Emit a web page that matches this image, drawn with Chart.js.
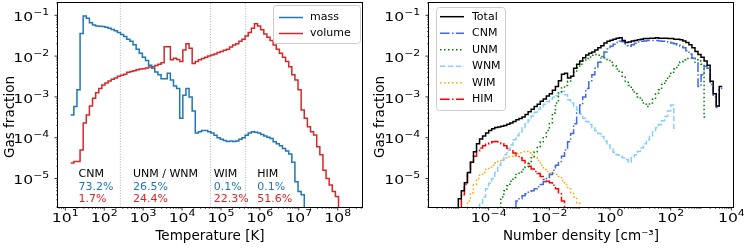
<!DOCTYPE html>
<html>
<head>
<meta charset="utf-8">
<script src="https://cdn.jsdelivr.net/npm/chart.js@4.4.1/dist/chart.umd.min.js"></script>
<style>
  html, body { margin: 0; padding: 0; background: #fff; }
  #wrap { position: relative; width: 747px; height: 249px; }
  canvas { position: absolute; top: 0; }
  #left { left: 0; }
  #right { left: 370px; }
</style>
</head>
<body>
<div id="wrap">
  <canvas id="left" width="370" height="249"></canvas>
  <canvas id="right" width="377" height="249"></canvas>
</div>
<script>
// ---- left panel: gas fraction vs temperature (bins in log10 T) ----
const tempLogStart = 1.14;
const tempLogBin = 0.08;
const massFrac = [
  3.6e-4, 5.8e-4, 1.5e-3, 3.6e-2, 9.6e-2, 8.5e-2, 6.6e-2, 5.8e-2, 5.5e-2, 5.4e-2,
  5.3e-2, 5.1e-2, 4.8e-2, 4.5e-2, 4.2e-2, 3.8e-2, 3.4e-2, 3.0e-2, 2.6e-2, 2.3e-2,
  1.9e-2, 1.47e-2, 1.17e-2, 9.3e-3, 7.8e-3, 6.0e-3, 5.0e-3, 4.1e-3, 3.5e-3, 2.8e-3,
  2.8e-3, 3.8e-3, 2.6e-3, 1.86e-3, 1.6e-3, 3.0e-4, 1.1e-3, 1.6e-3, 1.0e-3, 4.5e-4,
  1.3e-4, 1.4e-4, 1.5e-4, 1.5e-4, 1.4e-4, 1.3e-4, 1.15e-4, 1.0e-4, 9.1e-5, 8.5e-5,
  8.1e-5, 8.3e-5, 8.1e-5, 8.3e-5, 9.1e-5, 1.0e-4, 1.15e-4, 1.3e-4, 1.4e-4, 1.35e-4,
  1.3e-4, 1.2e-4, 1.1e-4, 1.02e-4, 9.5e-5, 7.9e-5, 7.1e-5, 6.3e-5, 5.4e-5, 4.7e-5,
  4.0e-5, 2.5e-5, 8.3e-6, 4.8e-6, 4.0e-6, 1e-8
];
const volumeFrac = [
  2.4e-5, 2.6e-5, 2.6e-5, 5.0e-5, 2.3e-4, 3.6e-4, 6.0e-4, 9.3e-4, 1.26e-3, 1.6e-3,
  1.95e-3, 2.2e-3, 2.45e-3, 2.7e-3, 2.9e-3, 3.2e-3, 3.4e-3, 3.6e-3, 4.0e-3, 4.2e-3,
  4.4e-3, 4.6e-3, 4.8e-3, 4.9e-3, 5.1e-3, 5.4e-3, 5.5e-3, 5.9e-3, 6.3e-3, 6.9e-3,
  1.7e-2, 1.7e-2, 8.1e-3, 8.9e-3, 8.3e-3, 7.4e-3, 1.4e-2, 2.0e-2, 1.55e-2, 6.6e-3,
  7.4e-3, 8.1e-3, 8.7e-3, 9.3e-3, 1.0e-2, 1.07e-2, 1.12e-2, 1.23e-2, 1.3e-2, 1.38e-2,
  1.48e-2, 1.66e-2, 1.86e-2, 2.0e-2, 2.3e-2, 2.6e-2, 3.1e-2, 3.8e-2, 4.8e-2, 6.2e-2,
  5.5e-2, 4.4e-2, 3.5e-2, 2.9e-2, 2.4e-2, 1.86e-2, 1.48e-2, 1.17e-2, 9.3e-3, 7.4e-3,
  5.5e-3, 3.5e-3, 2.6e-3, 1.5e-3, 4.8e-4, 3.0e-4, 1.86e-4, 1.4e-4, 1.17e-4, 6.0e-5,
  3.8e-5, 1.6e-5, 1.0e-5, 6.9e-6, 4.8e-6, 3.6e-6, 1e-8
];
const phaseBoundsT = [260, 5.4e4, 4.3e5];
const phaseNames = ["CNM", "UNM / WNM", "WIM", "HIM"];
const phaseMassPct = ["73.2%", "26.5%", "0.1%", "0.1%"];
const phaseVolPct = ["1.7%", "24.4%", "22.3%", "51.6%"];
const phaseNoteT = [22, 550, 6.5e4, 8.5e5];
const tempTicks = [1e1, 1e2, 1e3, 1e4, 1e5, 1e6, 1e7, 1e8];
const tempTickExp = ["1", "2", "3", "4", "5", "6", "7", "8"];

// ---- right panel: gas fraction vs number density (bins in log10 n) ----
const densLogBin = 0.1;
const totalStart = -5.1;
const totalFrac = [
  1e-8,
  3.2e-6, 5.0e-6, 7.9e-6, 1.4e-5, 2.5e-5, 4.5e-5, 7.1e-5, 9.3e-5, 1.1e-4, 1.3e-4,
  1.5e-4, 1.66e-4, 1.78e-4, 1.82e-4, 1.9e-4, 2.0e-4, 2.14e-4, 2.3e-4, 2.5e-4, 2.75e-4,
  2.95e-4, 3.2e-4, 3.7e-4, 4.3e-4, 5.0e-4, 5.8e-4, 6.6e-4, 7.8e-4, 8.9e-4, 1.05e-3,
  1.2e-3, 1.45e-3, 1.8e-3, 2.5e-3, 3.6e-3, 3.8e-3, 2.9e-3, 3.2e-3, 5.0e-3, 6.3e-3,
  7.6e-3, 9.1e-3, 1.07e-2, 1.17e-2, 1.26e-2, 1.4e-2, 1.6e-2, 1.8e-2, 2.1e-2, 2.3e-2,
  2.45e-2, 2.6e-2, 2.75e-2, 2.8e-2, 2.4e-2, 2.15e-2, 2.2e-2, 2.35e-2, 2.4e-2, 2.5e-2,
  2.6e-2, 2.7e-2, 2.7e-2, 2.75e-2, 2.75e-2, 2.8e-2, 2.75e-2, 2.75e-2, 2.75e-2, 2.7e-2,
  2.7e-2, 2.6e-2, 2.6e-2, 2.5e-2, 2.35e-2, 2.15e-2, 1.9e-2, 1.6e-2, 1.3e-2, 1.1e-2,
  9.3e-3, 7.6e-3, 6.0e-3, 2.4e-3, 1.2e-3, 6.0e-4, 1.8e-3
];
const cnmStart = -3.2;
const cnmFrac = [
  1e-8,
  2.8e-6, 3.2e-6, 3.8e-6, 4.2e-6, 4.6e-6, 5.0e-6, 5.6e-6, 6.3e-6, 7.1e-6, 8.3e-6,
  1.0e-5, 1.26e-5, 1.6e-5, 2.1e-5, 2.6e-5, 3.5e-5, 5.0e-5, 7.9e-5, 1.26e-4, 2.2e-4,
  4.0e-4, 6.3e-4, 1.0e-3, 1.6e-3, 2.5e-3, 3.5e-3, 5.0e-3, 7.1e-3, 9.5e-3, 1.26e-2,
  1.5e-2, 1.74e-2, 1.95e-2, 2.15e-2, 2.3e-2, 2.25e-2, 1.8e-2, 1.74e-2, 1.9e-2, 2.05e-2,
  2.2e-2, 2.3e-2, 2.35e-2, 2.4e-2, 2.4e-2, 2.4e-2, 2.4e-2, 2.35e-2, 2.3e-2, 2.25e-2,
  2.2e-2, 2.1e-2, 2.0e-2, 1.86e-2, 1.74e-2, 1.6e-2, 1.35e-2, 1.12e-2, 8.9e-3, 7.1e-3,
  1.8e-3, 3.5e-3, 5.6e-3, 5.0e-3, 2.0e-3, 1.0e-3, 5.5e-4, 1.6e-3
];
const unmStart = -3.7;
const unmFrac = [
  1e-8,
  3.5e-6, 5.0e-6, 6.6e-6, 8.5e-6, 1.05e-5, 1.26e-5, 1.45e-5, 1.66e-5, 1.9e-5, 2.3e-5,
  3.2e-5, 4.5e-5, 6.0e-5, 7.9e-5, 1.05e-4, 1.5e-4, 2.2e-4, 4.0e-4, 7.1e-4, 1.26e-3,
  1.66e-3, 1.9e-3, 2.4e-3, 3.0e-3, 4.0e-3, 5.2e-3, 6.3e-3, 7.6e-3, 8.7e-3, 9.5e-3,
  1.05e-2, 1.1e-2, 1.05e-2, 9.8e-3, 9.1e-3, 8.3e-3, 7.1e-3, 5.8e-3, 4.8e-3, 4.0e-3,
  3.2e-3, 2.4e-3, 1.9e-3, 1.5e-3, 1.2e-3, 1.0e-3, 8.3e-4, 6.6e-4, 5.8e-4, 7.1e-4,
  8.9e-4, 1.17e-3, 1.5e-3, 2.0e-3, 2.5e-3, 3.2e-3, 4.0e-3, 4.8e-3, 6.0e-3, 7.2e-3,
  8.1e-3, 8.7e-3, 8.9e-3, 8.7e-3, 8.1e-3, 7.6e-3, 6.3e-3, 3.2e-4
];
const wnmStart = -4.4;
const wnmFrac = [
  1e-8,
  2.5e-6, 3.5e-6, 5.6e-6, 7.6e-6, 1.0e-5, 1.4e-5, 2.1e-5, 2.8e-5, 3.8e-5, 5.0e-5,
  6.6e-5, 8.9e-5, 1.12e-4, 1.38e-4, 1.74e-4, 2.2e-4, 2.7e-4, 3.4e-4, 4.2e-4, 5.0e-4,
  5.8e-4, 6.6e-4, 7.6e-4, 8.7e-4, 9.8e-4, 1.07e-3, 1.17e-3, 1.35e-3, 1.12e-3, 8.5e-4,
  7.1e-4, 6.0e-4, 4.8e-4, 3.8e-4, 3.0e-4, 2.5e-4, 2.1e-4, 1.74e-4, 1.48e-4, 1.26e-4,
  1.07e-4, 8.3e-5, 6.6e-5, 5.4e-5, 4.4e-5, 3.8e-5, 3.5e-5, 3.2e-5, 2.9e-5, 2.5e-5,
  3.2e-5, 3.8e-5, 4.6e-5, 5.6e-5, 7.1e-5, 8.9e-5, 1.12e-4, 1.4e-4, 1.74e-4, 2.1e-4,
  2.6e-4, 3.3e-4, 4.5e-4, 6.3e-4, 1.7e-4
];
const wimStart = -4.8;
const wimFrac = [
  1e-8,
  2.8e-6, 4.5e-6, 7.1e-6, 1.0e-5, 1.2e-5, 1.4e-5, 1.66e-5, 1.9e-5, 2.1e-5, 2.4e-5,
  2.6e-5, 2.9e-5, 3.2e-5, 3.4e-5, 3.5e-5, 3.8e-5, 4.1e-5, 4.3e-5, 4.5e-5, 4.6e-5,
  4.3e-5, 3.8e-5, 3.2e-5, 2.75e-5, 2.1e-5, 1.66e-5, 1.48e-5, 1.35e-5, 1.32e-5, 1.26e-5,
  1.12e-5, 8.9e-6, 7.1e-6, 5.6e-6, 4.5e-6, 3.5e-6, 2.5e-6, 1e-8
];
const himStart = -5.0;
const himFrac = [
  1e-8,
  4.0e-6, 7.1e-6, 1.4e-5, 2.5e-5, 3.5e-5, 4.7e-5, 5.6e-5, 6.3e-5, 6.9e-5, 7.4e-5,
  7.9e-5, 8.1e-5, 7.8e-5, 7.1e-5, 6.3e-5, 5.5e-5, 4.8e-5, 4.2e-5, 3.6e-5, 3.2e-5,
  2.75e-5, 2.4e-5, 2.0e-5, 1.7e-5, 1.48e-5, 1.32e-5, 1.12e-5, 9.5e-6, 8.5e-6, 7.9e-6,
  6.8e-6, 5.6e-6, 4.2e-6, 2.8e-6, 1e-8
];
const densTicks = [1e-4, 1e-2, 1, 1e2, 1e4];
const densTickExp = ["\u22124", "\u22122", "0", "2", "4"];

const fracTicks = [1e-5, 1e-4, 1e-3, 1e-2, 1e-1];
const fracTickExp = ["\u22125", "\u22124", "\u22123", "\u22122", "\u22121"];

Chart.defaults.font.family = "'DejaVu Sans', sans-serif";
Chart.defaults.color = "#000";

// histogram bins -> points for a step line (left edges + closing right edge)
function stepPoints(logStart, logBin, values) {
  const pts = values.map((v, i) => ({ x: Math.pow(10, logStart + i * logBin), y: v }));
  pts.push({ x: Math.pow(10, logStart + values.length * logBin), y: values[values.length - 1] });
  return pts;
}

function stepSet(label, pts, color, dash) {
  return {
    label: label, data: pts, borderColor: color, backgroundColor: color,
    borderWidth: 1.5, borderDash: dash || [], stepped: "before",
    pointRadius: 0, fill: false, tension: 0, borderJoinStyle: "miter"
  };
}

function logAxis(min, max, tickVals, isX, size) {
  return {
    type: "logarithmic", min: min, max: max,
    grid: { display: false }, border: { display: false },
    afterBuildTicks: s => { s.ticks = tickVals.map(v => ({ value: v })); },
    afterFit: s => { if (isX) s.height = size; else s.width = size; },
    ticks: { display: false },
    title: { display: false }
  };
}

function drawLogTicks(ctx, scale, isX, area, majors) {
  const lo = Math.floor(Math.log10(scale.min)), hi = Math.ceil(Math.log10(scale.max));
  ctx.strokeStyle = "#000";
  for (let d = lo; d <= hi; d++) {
    for (let m = 1; m <= 9; m++) {
      const v = m * Math.pow(10, d);
      if (v < scale.min || v > scale.max) continue;
      const p = scale.getPixelForValue(v);
      const major = m === 1 && majors.some(t => Math.abs(t / v - 1) < 1e-6);
      const len = major ? 3.5 : 2;
      ctx.lineWidth = major ? 0.8 : 0.6;
      ctx.beginPath();
      if (isX) { ctx.moveTo(p, area.bottom); ctx.lineTo(p, area.bottom + len); }
      else { ctx.moveTo(area.left, p); ctx.lineTo(area.left - len, p); }
      ctx.stroke();
    }
  }
}

// "10^exp" tick label, drawn the way matplotlib mathtext looks in the picture
function drawPowLabel(ctx, exp, p, isX, area) {
  const F = 12.3, SX = 1.27, SUP = 0.7;
  ctx.font = F + "px 'DejaVu Sans'";
  const wb = ctx.measureText("10").width;
  ctx.font = (F * SUP) + "px 'DejaVu Sans'";
  const we = ctx.measureText(exp).width;
  const total = (wb + we) * SX;
  let x0, yb;
  if (isX) { x0 = p - total / 2; yb = area.bottom + 15.3; }
  else { x0 = area.left - 8.7 - total; yb = p + 5.7; }
  ctx.save();
  ctx.translate(x0, yb); ctx.scale(SX, 1);
  ctx.textAlign = "left"; ctx.textBaseline = "alphabetic";
  ctx.font = F + "px 'DejaVu Sans'";
  ctx.fillText("10", 0, 0);
  ctx.font = (F * SUP) + "px 'DejaVu Sans'";
  ctx.fillText(exp, wb, -0.48 * F);
  ctx.restore();
}

const deco = {
  id: "deco",
  beforeDatasetsDraw(chart, args, o) {
    if (!o.vlines) return;
    const { ctx, chartArea: a, scales: { x } } = chart;
    ctx.save();
    ctx.strokeStyle = "#a0a0a0"; ctx.lineWidth = 0.8; ctx.setLineDash([1, 1.6]);
    o.vlines.forEach(v => {
      const px = x.getPixelForValue(v);
      ctx.beginPath(); ctx.moveTo(px, a.top); ctx.lineTo(px, a.bottom); ctx.stroke();
    });
    ctx.restore();
  },
  afterDraw(chart, args, o) {
    const { ctx, chartArea: a, scales: { x, y } } = chart;
    ctx.save();
    // frame
    ctx.strokeStyle = "#000"; ctx.lineWidth = 1; ctx.setLineDash([]);
    ctx.strokeRect(Math.round(a.left) - 0.5, Math.round(a.top) - 0.5,
      Math.round(a.right - a.left) + 1, Math.round(a.bottom - a.top) + 1);
    drawLogTicks(ctx, x, true, a, o.xMajors);
    drawLogTicks(ctx, y, false, a, fracTicks);

    // tick labels
    ctx.fillStyle = "#000";
    o.xMajors.forEach((v, i) => drawPowLabel(ctx, o.xExp[i], x.getPixelForValue(v), true, a));
    fracTicks.forEach((v, i) => drawPowLabel(ctx, fracTickExp[i], y.getPixelForValue(v), false, a));

    // axis titles
    ctx.fillStyle = "#000";
    ctx.font = "13.5px 'DejaVu Sans'";
    ctx.textAlign = "center"; ctx.textBaseline = "middle";
    ctx.fillText(o.xTitle, (a.left + a.right) / 2, 236);
    ctx.save();
    ctx.translate(10, 117); ctx.rotate(-Math.PI / 2);
    ctx.fillText("Gas fraction", 0, 0);
    ctx.restore();

    // phase notes
    if (o.notes) {
      ctx.font = "11px 'DejaVu Sans'";
      ctx.textAlign = "left";
      phaseNames.forEach((name, i) => {
        const px = x.getPixelForValue(phaseNoteT[i]);
        ctx.fillStyle = "#000"; ctx.fillText(name, px, a.bottom - 33);
        ctx.fillStyle = "#1f77b4"; ctx.fillText(phaseMassPct[i], px, a.bottom - 20);
        ctx.fillStyle = "#d62728"; ctx.fillText(phaseVolPct[i], px, a.bottom - 7.5);
      });
    }

    // legend
    const L = o.legend;
    const bx = L.fromRight ? a.right - L.dx - L.w : a.left + L.dx;
    const by = a.top + L.dy;
    ctx.beginPath();
    ctx.roundRect(bx + 0.5, by + 0.5, L.w, L.h, 3);
    ctx.fillStyle = "rgba(255,255,255,0.8)"; ctx.fill();
    ctx.strokeStyle = "#cccccc"; ctx.lineWidth = 1; ctx.stroke();
    ctx.font = "11px 'DejaVu Sans'";
    ctx.textAlign = "left"; ctx.textBaseline = "middle";
    chart.data.datasets.forEach((ds, i) => {
      const ly = by + L.first + i * L.gap;
      ctx.strokeStyle = ds.borderColor; ctx.lineWidth = ds.borderWidth;
      ctx.setLineDash(ds.borderDash);
      ctx.beginPath(); ctx.moveTo(bx + L.lx0, ly); ctx.lineTo(bx + L.lx1, ly); ctx.stroke();
      ctx.setLineDash([]);
      ctx.fillStyle = "#000";
      ctx.fillText(ds.label, bx + L.tx, ly);
    });
    ctx.restore();
  }
};

const baseOpts = {
  responsive: false, maintainAspectRatio: false, animation: false,
  devicePixelRatio: 1,
  events: [],
  plugins: { legend: { display: false }, tooltip: { enabled: false } }
};

new Chart(document.getElementById("left"), {
  type: "line",
  data: {
    datasets: [
      stepSet("mass", stepPoints(tempLogStart, tempLogBin, massFrac), "#1f77b4"),
      stepSet("volume", stepPoints(tempLogStart, tempLogBin, volumeFrac), "#d62728")
    ]
  },
  options: Object.assign({}, baseOpts, {
    layout: { padding: { top: 3, right: 8, left: 0, bottom: 0 } },
    scales: {
      x: logAxis(6.5, 4.2e8, tempTicks, true, 42),
      y: logAxis(2e-6, 0.2, fracTicks, false, 58)
    },
    plugins: Object.assign({}, baseOpts.plugins, {
      deco: {
        xMajors: tempTicks, xExp: tempTickExp, xTitle: "Temperature [K]", vlines: phaseBoundsT, notes: true,
        legend: { fromRight: true, dx: 2, dy: 2, w: 87, h: 38, first: 12.5, gap: 16, lx0: 6, lx1: 30, tx: 37 }
      }
    })
  }),
  plugins: [deco]
});

new Chart(document.getElementById("right"), {
  type: "line",
  data: {
    datasets: [
      stepSet("Total", stepPoints(totalStart, densLogBin, totalFrac), "#000000"),
      stepSet("CNM", stepPoints(cnmStart, densLogBin, cnmFrac), "#4169e1", [9.6, 2.4, 1.5, 2.4]),
      stepSet("UNM", stepPoints(unmStart, densLogBin, unmFrac), "#008000", [1.5, 2.5]),
      stepSet("WNM", stepPoints(wnmStart, densLogBin, wnmFrac), "#87cefa", [5.5, 2.4]),
      stepSet("WIM", stepPoints(wimStart, densLogBin, wimFrac), "#ffa500", [1.5, 2.5]),
      stepSet("HIM", stepPoints(himStart, densLogBin, himFrac), "#ff0000", [9.6, 2.4, 1.5, 2.4])
    ]
  },
  options: Object.assign({}, baseOpts, {
    layout: { padding: { top: 3, right: 14, left: 0, bottom: 0 } },
    scales: {
      x: logAxis(1.08e-6, 1.13e4, densTicks, true, 42),
      y: logAxis(2e-6, 0.2, fracTicks, false, 59)
    },
    plugins: Object.assign({}, baseOpts.plugins, {
      deco: {
        xMajors: densTicks, xExp: densTickExp, xTitle: "Number density [cm\u207B\u00B3]", vlines: null, notes: false,
        legend: { fromRight: false, dx: 7, dy: 4, w: 69, h: 103, first: 9.7, gap: 16.5, lx0: 4, lx1: 28, tx: 36 }
      }
    })
  }),
  plugins: [deco]
});
</script>
</body>
</html>
